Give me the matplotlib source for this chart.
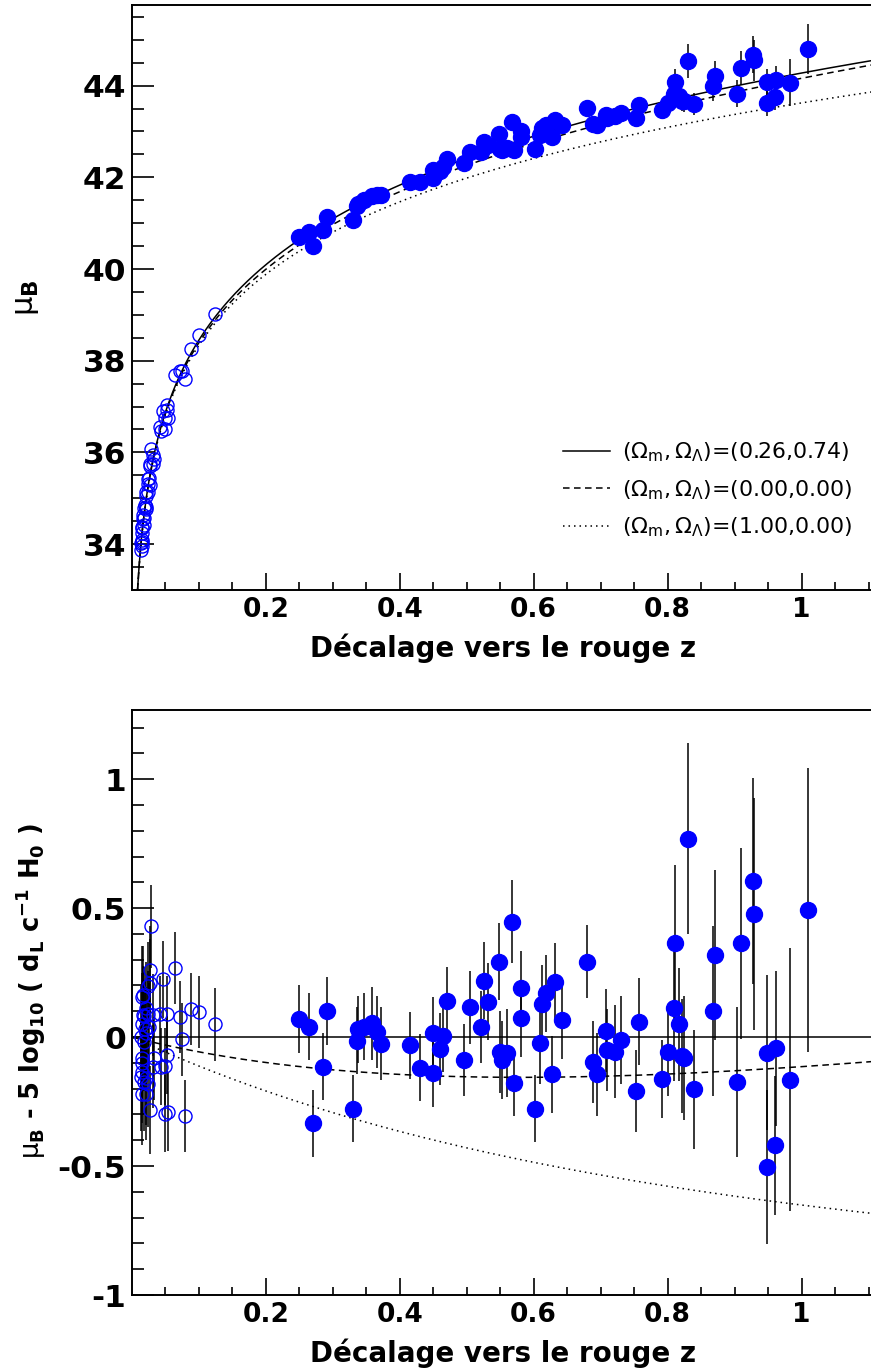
import numpy as np
import matplotlib
matplotlib.use("Agg")
import matplotlib.pyplot as plt

plt.rcParams['font.family'] = ['DejaVu Sans']
plt.rcParams['mathtext.default'] = 'regular'
plt.rcParams['axes.unicode_minus'] = False

# nearby supernovae (open circles): redshift, residual to LCDM, error
z_low = [0.014, 0.015, 0.015, 0.014, 0.018, 0.015, 0.022, 0.015, 0.017, 0.017,
         0.019, 0.022, 0.022, 0.024, 0.024, 0.027, 0.027, 0.029, 0.028, 0.032,
         0.032, 0.033, 0.042, 0.044, 0.046, 0.049, 0.050, 0.052, 0.053, 0.054,
         0.064, 0.072, 0.075, 0.079, 0.088, 0.101, 0.125, 0.016, 0.020, 0.026,
         0.018, 0.021, 0.016, 0.025]
res_low = [-0.001, -0.102, -0.135, -0.154, -0.174, -0.219, -0.219, 0.155, 0.163, 0.085,
           0.080, 0.111, 0.014, 0.198, 0.088, 0.211, 0.260, 0.429, -0.284, 0.085,
           -0.115, -0.083, 0.088, -0.115, 0.224, -0.297, -0.113, 0.088, -0.070, -0.290,
           0.267, 0.079, -0.009, -0.307, 0.108, 0.098, 0.049, 0.050, 0.030, 0.040,
           -0.020, -0.160, -0.080, -0.180]
err_low = [0.20, 0.20, 0.20, 0.21, 0.19, 0.20, 0.18, 0.20, 0.19, 0.19,
           0.19, 0.18, 0.18, 0.17, 0.17, 0.17, 0.17, 0.16, 0.17, 0.16,
           0.16, 0.16, 0.15, 0.15, 0.15, 0.15, 0.15, 0.15, 0.15, 0.15,
           0.14, 0.14, 0.14, 0.14, 0.14, 0.14, 0.14, 0.20, 0.19, 0.17,
           0.19, 0.18, 0.20, 0.17]

# SNLS supernovae (filled circles)
z_high = [0.249, 0.264, 0.270, 0.285, 0.292, 0.331, 0.336, 0.338, 0.347, 0.358,
          0.366, 0.372, 0.415, 0.430, 0.449, 0.450, 0.460, 0.464, 0.470, 0.496,
          0.505, 0.521, 0.526, 0.532, 0.548, 0.550, 0.552, 0.560, 0.568, 0.571,
          0.581, 0.581, 0.602, 0.610, 0.612, 0.619, 0.627, 0.632, 0.643, 0.679,
          0.689, 0.695, 0.708, 0.709, 0.721, 0.730, 0.752, 0.757, 0.792, 0.800,
          0.810, 0.811, 0.817, 0.821, 0.825, 0.830, 0.840, 0.868, 0.870, 0.904,
          0.909, 0.927, 0.929, 0.949, 0.949, 0.960, 0.962, 0.983, 1.010]
res_high = [0.070, 0.040, -0.335, -0.115, 0.101, -0.277, -0.014, 0.030, 0.040, 0.053,
            0.020, -0.025, -0.031, -0.118, -0.141, 0.017, -0.047, 0.004, 0.141, -0.089,
            0.115, 0.040, 0.219, 0.137, 0.293, -0.057, -0.089, -0.063, 0.448, -0.177,
            0.192, 0.073, -0.277, -0.022, 0.128, 0.170, -0.144, 0.215, 0.066, 0.293,
            -0.096, -0.144, 0.025, -0.050, -0.057, -0.012, -0.209, 0.060, -0.163, -0.057,
            0.111, 0.366, 0.049, -0.074, -0.080, 0.769, -0.203, 0.102, 0.319, -0.173,
            0.364, 0.606, 0.477, -0.061, -0.504, -0.420, -0.044, -0.165, 0.493]
err_high = [0.13, 0.13, 0.13, 0.13, 0.13, 0.13, 0.13, 0.13, 0.13, 0.14,
            0.14, 0.14, 0.13, 0.13, 0.13, 0.14, 0.14, 0.14, 0.13, 0.14,
            0.14, 0.14, 0.15, 0.15, 0.15, 0.16, 0.15, 0.17, 0.16, 0.13,
            0.14, 0.15, 0.13, 0.16, 0.15, 0.15, 0.15, 0.15, 0.15, 0.14,
            0.16, 0.16, 0.16, 0.16, 0.18, 0.17, 0.16, 0.17, 0.15, 0.17,
            0.28, 0.30, 0.22, 0.22, 0.24, 0.37, 0.23, 0.33, 0.33, 0.29,
            0.37, 0.40, 0.45, 0.30, 0.30, 0.27, 0.30, 0.51, 0.55]

# cosmologies (Omega_m, Omega_Lambda) drawn as curves
cosmo_om = [0.26, 0.00, 1.00]
cosmo_ol = [0.74, 0.00, 0.00]
cosmo_ls = ['-', (0, (4.3, 2.9)), (0, (1.0, 2.6))]
MU0 = 43.28  # 5 log10(c/H0 / 10 pc) + offset


def lum_dist(z, om, ol):
    z = np.asarray(z, dtype=float)
    zg = np.linspace(0, 1.2, 6000)
    ok = 1 - om - ol
    e = np.sqrt(om * (1 + zg) ** 3 + ok * (1 + zg) ** 2 + ol)
    chi = np.concatenate([[0], np.cumsum(0.5 * (1 / e[1:] + 1 / e[:-1]) * np.diff(zg))])
    chi = np.interp(z, zg, chi)
    if ok > 1e-8:
        s = np.sinh(np.sqrt(ok) * chi) / np.sqrt(ok)
    elif ok < -1e-8:
        s = np.sin(np.sqrt(-ok) * chi) / np.sqrt(-ok)
    else:
        s = chi
    return (1 + z) * s


def mu_model(z, om, ol):
    return MU0 + 5 * np.log10(lum_dist(z, om, ol))


mu_low = np.array(res_low) + mu_model(z_low, 0.26, 0.74)
mu_high = np.array(res_high) + mu_model(z_high, 0.26, 0.74)

fig = plt.figure(figsize=(8.71, 13.72), dpi=100)
ax1 = fig.add_axes([0.1512, 0.5700, 0.8488, 0.4264])
ax2 = fig.add_axes([0.1512, 0.0561, 0.8488, 0.4264])

zz = np.linspace(0.0015, 1.12, 600)
labels = [r'$(\Omega_{m},\Omega_{\Lambda})$=(%.2f,%.2f)' % (a, b)
          for a, b in zip(cosmo_om, cosmo_ol)]

# top: Hubble diagram
for om, ol, ls, lab in zip(cosmo_om, cosmo_ol, cosmo_ls, labels):
    ax1.plot(zz, mu_model(zz, om, ol), color='black', lw=1.1, ls=ls, label=lab)
ax1.errorbar(z_high, mu_high, yerr=err_high, fmt='none', ecolor='black', elinewidth=1.1)
ax1.plot(z_low, mu_low, 'o', ms=9.4, mfc='none', mec='#0000ff', mew=1.0)
ax1.plot(z_high, mu_high, 'o', ms=11.5, color='#0000ff', mec='#0000ff')

# bottom: residuals
ref = mu_model(zz, 0.26, 0.74)
for om, ol, ls in zip(cosmo_om, cosmo_ol, cosmo_ls):
    ax2.plot(zz, mu_model(zz, om, ol) - ref, color='black', lw=1.1, ls=ls)
ax2.errorbar(z_low, res_low, yerr=err_low, fmt='none', ecolor='black', elinewidth=1.1)
ax2.errorbar(z_high, res_high, yerr=err_high, fmt='none', ecolor='black', elinewidth=1.1)
ax2.plot(z_low, res_low, 'o', ms=9.4, mfc='none', mec='#0000ff', mew=1.0)
ax2.plot(z_high, res_high, 'o', ms=11.5, color='#0000ff', mec='#0000ff')

x_ticks = [0.2, 0.4, 0.6, 0.8, 1.0]
x_ticklabels = ['0.2', '0.4', '0.6', '0.8', '1']
y1_ticks = [34, 36, 38, 40, 42, 44]
y1_ticklabels = ['34', '36', '38', '40', '42', '44']
y2_ticks = [-1, -0.5, 0, 0.5, 1]
y2_ticklabels = ['-1', '-0.5', '0', '0.5', '1']

for ax, yt, ytl, ylim, ystep in [(ax1, y1_ticks, y1_ticklabels, (33, 45.76), 0.5),
                                 (ax2, y2_ticks, y2_ticklabels, (-1, 1.268), 0.1)]:
    ax.set_xlim(0, 1.1035)
    ax.set_ylim(*ylim)
    ax.set_xticks(x_ticks, labels=x_ticklabels, fontweight='bold')
    ax.set_xticks(np.arange(0.05, 1.11, 0.05), minor=True)
    ax.set_yticks(yt, labels=ytl, fontweight='bold')
    ax.set_yticks(np.arange(ylim[0], ylim[1], ystep), minor=True)
    ax.tick_params(axis='x', which='major', direction='in', length=12, width=1.2,
                   labelsize=19, pad=5, top=False)
    ax.tick_params(axis='x', which='minor', direction='in', length=6, width=1.2, top=False)
    ax.tick_params(axis='y', which='major', direction='in', length=16, width=1.2,
                   labelsize=22.5, pad=4, right=False)
    ax.tick_params(axis='y', which='minor', direction='in', length=8.6, width=1.2, right=False)
    ax.spines['right'].set_visible(False)
    for s in ['left', 'bottom', 'top']:
        ax.spines[s].set_linewidth(1.4)
    ax.set_xlabel('Décalage vers le rouge z', fontsize=20, fontweight='bold', va='baseline')
    ax.xaxis.set_label_coords(0.502, -0.114)

ax1.set_ylabel(r'$\mathrm{\mu}_B$', fontsize=22, fontweight='bold', va='center')
ax1.yaxis.set_label_coords(-0.142, 0.5)
ax2.set_ylabel(r'$\mathrm{\mu}_B$ - 5 log$_{10}$ ( d$_L$ c$^{-1}$ H$_0$ )',
               fontsize=18.5, fontweight='bold', va='center')
ax2.yaxis.set_label_coords(-0.136, 0.52)

ax1.legend(loc='upper left', bbox_to_anchor=(0.583, 0.255), frameon=False,
           fontsize=15.8, handlelength=2.15, handletextpad=0.55, labelspacing=0.62,
           borderpad=0, borderaxespad=0)

fig.savefig('out.png', dpi=100)
